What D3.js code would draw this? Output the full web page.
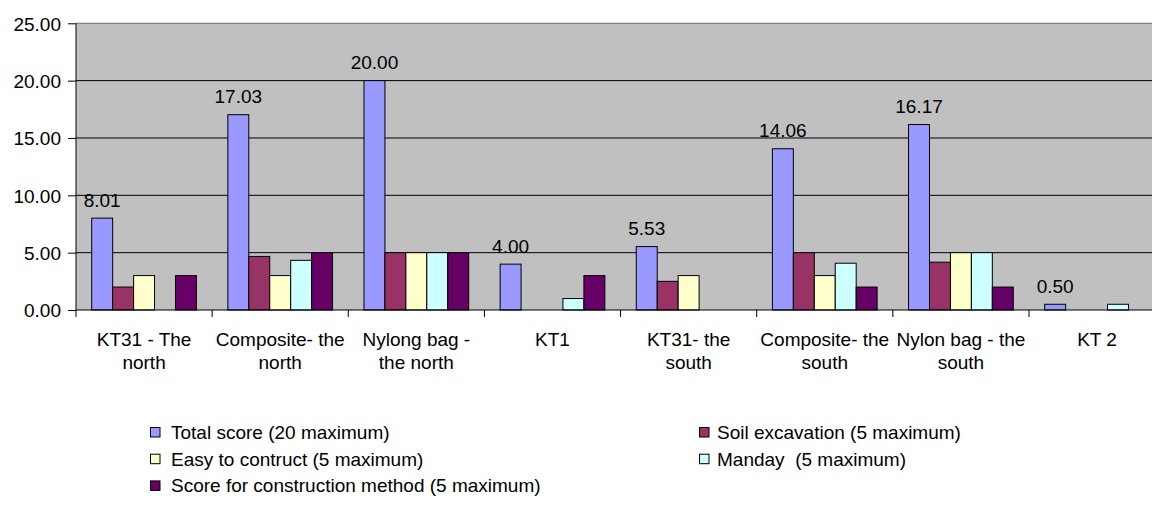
<!DOCTYPE html>
<html>
<head>
<meta charset="utf-8">
<script src="https://cdn.jsdelivr.net/npm/d3@7"></script>
<style>
  html, body { margin: 0; padding: 0; background: #ffffff; }
  svg { display: block; font-family: "Liberation Sans", Arial, sans-serif; }
</style>
</head>
<body>
<svg id="chart" width="1152" height="510"></svg>
<script>
// Construction method scores per site (five series, eight sites)
const categories = [
  "KT31 - The\nnorth",
  "Composite- the\nnorth",
  "Nylong bag -\nthe north",
  "KT1",
  "KT31- the\nsouth",
  "Composite- the\nsouth",
  "Nylon bag - the\nsouth",
  "KT 2"
];
const seriesNames = [
  "Total score (20 maximum)",
  "Soil excavation (5 maximum)",
  "Easy to contruct (5 maximum)",
  "Manday  (5 maximum)",
  "Score for construction method (5 maximum)"
];
const totalScore   = [8.01, 17.03, 20.00, 4.00, 5.53, 14.06, 16.17, 0.50];
const soilExcav    = [2, 4.67, 5, 0, 2.5, 5, 4.17, 0];
const easyBuild    = [3, 3, 5, 0, 3, 3, 5, 0];
const manday       = [0, 4.33, 5, 1, 0, 4.08, 5, 0.5];
const methodScore  = [3, 5, 5, 3, 0, 2, 2, 0];
const yTicks = [0, 5, 10, 15, 20, 25];

const seriesValues = [totalScore, soilExcav, easyBuild, manday, methodScore];
const colors = ["#9999FF", "#993366", "#FFFFCC", "#CCFFFF", "#660066"];

const svg = d3.select("#chart");
const fontSize = 19;

// plot frame
const plotLeft = 76, plotTop = 23.3, plotBottom = 310;
const step = 136.14;
const plotRight = plotLeft + step * categories.length;

const x0 = d3.scaleBand().domain(d3.range(categories.length)).range([plotLeft, plotRight]).padding(0);
const bw = x0.bandwidth();
const gap = bw * 0.75 / 6.5;
const x1 = d3.scaleBand().domain(d3.range(seriesValues.length)).range([gap, bw - gap]).padding(0);
const y = d3.scaleLinear().domain([0, 25]).range([plotBottom, plotTop]);

// plot area background
svg.append("rect")
  .attr("x", plotLeft).attr("y", y(25))
  .attr("width", plotRight - plotLeft).attr("height", y(0) - y(25))
  .attr("fill", "#C0C0C0");

// horizontal gridlines
svg.append("g").selectAll("line")
  .data(yTicks.filter(t => t > 0 && t < 25))
  .join("line")
  .attr("x1", plotLeft).attr("x2", plotRight)
  .attr("y1", d => y(d)).attr("y2", d => y(d))
  .attr("stroke", "#000").attr("stroke-width", 1);

// top border of the plot area
svg.append("line")
  .attr("x1", plotLeft).attr("x2", plotRight)
  .attr("y1", y(25)).attr("y2", y(25))
  .attr("stroke", "#808080").attr("stroke-width", 1.3);

// bars
const groups = svg.append("g").selectAll("g")
  .data(categories.map((c, i) => i))
  .join("g")
  .attr("transform", i => `translate(${x0(i)},0)`);

groups.selectAll("rect")
  .data(i => seriesValues.map((vals, s) => ({ s, v: vals[i] })).filter(d => d.v > 0))
  .join("rect")
  .attr("x", d => x1(d.s))
  .attr("y", d => y(d.v))
  .attr("width", x1.bandwidth())
  .attr("height", d => y(0) - y(d.v))
  .attr("fill", d => colors[d.s])
  .attr("stroke", "#000")
  .attr("stroke-width", 1);

// value labels on the total score bars
svg.append("g").selectAll("text")
  .data(totalScore.map((v, i) => ({ v, i })))
  .join("text")
  .attr("x", d => x0(d.i) + x1(0) + x1.bandwidth() / 2)
  .attr("y", d => y(d.v) - 11.5)
  .attr("text-anchor", "middle")
  .attr("font-size", fontSize)
  .attr("fill", "#000")
  .text(d => d3.format(".2f")(d.v));

// y axis
const yAxis = d3.axisLeft(y)
  .tickValues(yTicks)
  .tickFormat(d3.format(".2f"))
  .tickSize(8)
  .tickSizeOuter(0)
  .tickPadding(7);
const gy = svg.append("g").attr("transform", `translate(${plotLeft},0)`).call(yAxis);
gy.select(".domain").attr("stroke", "#000").attr("d", `M0,${y(0)}V${y(25)}`);
gy.selectAll(".tick line").attr("stroke", "#000");
gy.selectAll(".tick text")
  .attr("font-size", fontSize)
  .attr("font-family", "Liberation Sans, Arial, sans-serif")
  .attr("fill", "#000")
  .attr("dy", "0.36em");

// x axis line and category boundary ticks
const gx = svg.append("g");
gx.append("line")
  .attr("x1", plotLeft).attr("x2", plotRight)
  .attr("y1", y(0)).attr("y2", y(0))
  .attr("stroke", "#000");
gx.selectAll("line.tick")
  .data(d3.range(categories.length + 1))
  .join("line")
  .attr("class", "tick")
  .attr("x1", i => plotLeft + i * bw).attr("x2", i => plotLeft + i * bw)
  .attr("y1", y(0)).attr("y2", y(0) + 7)
  .attr("stroke", "#000");

// category labels (two lines where wrapped)
const lbl = gx.selectAll("text")
  .data(categories.map((c, i) => ({ c, i })))
  .join("text")
  .attr("text-anchor", "middle")
  .attr("font-size", fontSize)
  .attr("fill", "#000");
lbl.each(function (d) {
  const t = d3.select(this);
  d.c.split("\n").forEach((line, k) => {
    t.append("tspan")
      .attr("x", x0(d.i) + bw / 2)
      .attr("y", 345.7 + k * 23.6)
      .text(line);
  });
});

// legend
const legendX = [150, 699];
const legendY0 = 427, legendStep = 26.7;
const leg = svg.append("g").selectAll("g")
  .data(seriesNames.map((n, i) => ({ n, i })))
  .join("g")
  .attr("transform", d => `translate(${legendX[d.i % 2]},${legendY0 + Math.floor(d.i / 2) * legendStep})`);
leg.append("rect")
  .attr("x", 0.5).attr("y", 0.5)
  .attr("width", 9.5).attr("height", 9.5)
  .attr("fill", d => colors[d.i])
  .attr("stroke", "#000").attr("stroke-width", 1);
leg.append("text")
  .attr("x", d => d.i % 2 === 0 ? 21 : 18)
  .attr("y", 5)
  .attr("dy", "0.36em")
  .attr("font-size", fontSize)
  .attr("fill", "#000")
  .style("white-space", "pre")
  .text(d => d.n);
</script>
</body>
</html>
